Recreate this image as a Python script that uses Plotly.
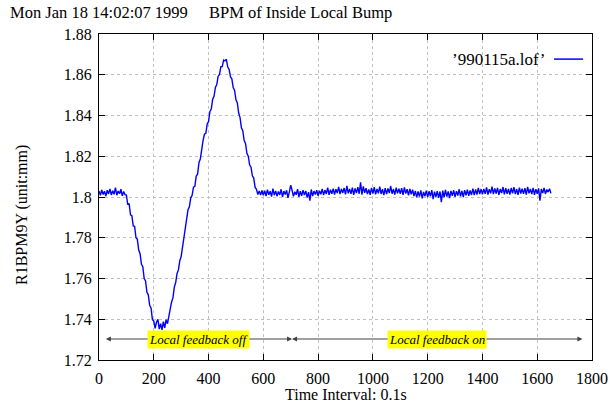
import plotly.graph_objects as go

# sample spacing of the trace (time index, 0.1 s units)
x_start, x_step = 0, 5
bpm_y = [
    1.8030, 1.8008, 1.8035, 1.8012, 1.8028, 1.8004, 1.8033, 1.8015, 1.8040, 1.8010,
    1.8031, 1.8013, 1.8046, 1.8009, 1.8029, 1.8016, 1.8038, 1.8006, 1.8027, 1.8012,
    1.8010, 1.7962, 1.7968, 1.7912, 1.7908, 1.7858, 1.7856, 1.7800, 1.7792, 1.7740,
    1.7722, 1.7670, 1.7658, 1.7600, 1.7588, 1.7532, 1.7520, 1.7468, 1.7455, 1.7398,
    1.7392, 1.7355, 1.7385, 1.7400, 1.7352, 1.7378, 1.7348, 1.7388, 1.7358, 1.7398,
    1.7378, 1.7415, 1.7438, 1.7485, 1.7505, 1.7558, 1.7580, 1.7625, 1.7642, 1.7688,
    1.7708, 1.7755, 1.7792, 1.7850, 1.7876, 1.7938, 1.7952, 1.7996, 1.8008, 1.8048,
    1.8052, 1.8103, 1.8112, 1.8168, 1.8187, 1.8248, 1.8278, 1.8308, 1.8312, 1.8358,
    1.8370, 1.8420, 1.8432, 1.8480, 1.8494, 1.8538, 1.8552, 1.8593, 1.8602, 1.8640,
    1.8640, 1.8672, 1.8668, 1.8676, 1.8638, 1.8627, 1.8590, 1.8580, 1.8537, 1.8523,
    1.8477, 1.8463, 1.8412, 1.8390, 1.8340, 1.8326, 1.8277, 1.8263, 1.8214, 1.8200,
    1.8157, 1.8146, 1.8104, 1.8093, 1.8047, 1.8038, 1.8012, 1.8030, 1.8010, 1.8032,
    1.8008, 1.8031, 1.8005, 1.8036, 1.8011, 1.8028, 1.8002, 1.8041, 1.8009, 1.8030,
    1.8004, 1.8027, 1.8010, 1.8038, 1.8000, 1.8029, 1.8012, 1.8033, 1.7996, 1.8025,
    1.8058, 1.8032, 1.8003, 1.8026, 1.8011, 1.8039, 1.8001, 1.8028, 1.8006, 1.8034,
    1.8010, 1.8030, 1.7997, 1.8024, 1.7982, 1.8037, 1.8004, 1.8029, 1.8012, 1.8033,
    1.8006, 1.8031, 1.8013, 1.8040, 1.8009, 1.8034, 1.8015, 1.8046, 1.8011, 1.8036,
    1.8016, 1.8041, 1.8012, 1.8038, 1.8019, 1.8050, 1.8014, 1.8039, 1.8020, 1.8044,
    1.8013, 1.8055, 1.8018, 1.8040, 1.8015, 1.8046, 1.8010, 1.8042, 1.8019, 1.8048,
    1.8016, 1.8072, 1.8012, 1.8052, 1.8020, 1.8043, 1.8014, 1.8037, 1.8011, 1.8045,
    1.8017, 1.8049, 1.8013, 1.8040, 1.8018, 1.8051, 1.8015, 1.8038, 1.8009, 1.8044,
    1.8014, 1.8042, 1.8019, 1.8054, 1.8016, 1.8039, 1.8012, 1.8046, 1.8018, 1.8041,
    1.8015, 1.8043, 1.8010, 1.8047, 1.8017, 1.8038, 1.8008, 1.8040, 1.8013, 1.8036,
    1.8005, 1.8030, 1.7998, 1.8027, 1.8002, 1.8033, 1.7993, 1.8025, 1.8004, 1.8031,
    1.7999, 1.8028, 1.8003, 1.8034, 1.7990, 1.8026, 1.8001, 1.8029, 1.7996, 1.8027,
    1.7975, 1.8031, 1.7998, 1.8035, 1.8002, 1.8027, 1.7995, 1.8030, 1.8006, 1.8033,
    1.8001, 1.8029, 1.8007, 1.8038, 1.8003, 1.8030, 1.8000, 1.8034, 1.8008, 1.8036,
    1.8006, 1.8032, 1.8010, 1.8041, 1.8009, 1.8037, 1.8012, 1.8045, 1.8014, 1.8039,
    1.8013, 1.8040, 1.8016, 1.8047, 1.8012, 1.8038, 1.8018, 1.8051, 1.8014, 1.8042,
    1.8017, 1.8045, 1.8011, 1.8039, 1.8019, 1.8049, 1.8013, 1.8043, 1.8016, 1.8040,
    1.8012, 1.8044, 1.8018, 1.8048, 1.8014, 1.8039, 1.8010, 1.8046, 1.8017, 1.8041,
    1.8015, 1.8043, 1.8012, 1.8050, 1.8018, 1.8040, 1.8014, 1.8045, 1.8011, 1.8038,
    1.8016, 1.8042, 1.7982, 1.8039, 1.8019, 1.8044, 1.8015, 1.8037, 1.8024, 1.8041,
    1.8018,
]
bpm_x = [x_start + i * x_step for i in range(len(bpm_y))]

x_ticks = [0, 200, 400, 600, 800, 1000, 1200, 1400, 1600, 1800]
y_ticks = [1.72, 1.74, 1.76, 1.78, 1.80, 1.82, 1.84, 1.86, 1.88]
y_tick_labels = ["1.72", "1.74", "1.76", "1.78", "1.8", "1.82", "1.84", "1.86", "1.88"]

# feedback periods: (start, end, label)
periods = [(25, 705, "Local feedback off"), (705, 1765, "Local feedback on")]
arrow_level = 1.7303

series_name = "\u2019990115a.lof\u2019"
title_left = "Mon Jan 18 14:02:07 1999"
title_right = "BPM of Inside Local Bump"

FONT = "Liberation Serif, Times New Roman, serif"

fig = go.Figure()
fig.add_trace(go.Scatter(x=bpm_x, y=bpm_y, mode="lines",
                         line=dict(color="#0000ff", width=1.4),
                         name=series_name, showlegend=False))

axis_common = dict(showline=True, linecolor="black", linewidth=1, mirror="allticks",
                   ticks="inside", ticklen=6, tickcolor="black", automargin=False,
                   showgrid=True, gridcolor="#c0c0c0", griddash="dot", gridwidth=1,
                   zeroline=False, tickfont=dict(family=FONT, size=16, color="black"))

fig.update_xaxes(range=[0, 1800], tickvals=x_ticks, ticklabelstandoff=4, **axis_common)
fig.update_yaxes(range=[1.72, 1.88], tickvals=y_ticks, ticktext=y_tick_labels,
                 ticklabelstandoff=3, **axis_common)

annotations = []
for (a, b, label) in periods:
    mid = (a + b) / 2
    for end in (a, b):
        annotations.append(dict(x=end, y=arrow_level, ax=mid, ay=arrow_level, xref="x", yref="y",
                                axref="x", ayref="y", text="", showarrow=True,
                                arrowhead=2, arrowsize=1, arrowwidth=1, arrowcolor="#404040",
                                font=dict(size=1), borderpad=0))
    annotations.append(dict(x=mid, y=arrow_level, xref="x", yref="y",
                            text="<i>" + label + "</i>", showarrow=False,
                            bgcolor="#ffff00", borderpad=1,
                            font=dict(family=FONT, size=13, color="black")))

annotations += [
    dict(x=-0.1846, y=1.067, xref="paper", yref="paper", xanchor="left", yanchor="middle",
         text=title_left, showarrow=False, font=dict(family=FONT, size=16.5, color="black")),
    dict(x=0.219, y=1.067, xref="paper", yref="paper", xanchor="left", yanchor="middle",
         text=title_right, showarrow=False, font=dict(family=FONT, size=16.5, color="black")),
    dict(x=0.5, y=-0.106, xref="paper", yref="paper", xanchor="center", yanchor="middle",
         text="Time Interval: 0.1s", showarrow=False, font=dict(family=FONT, size=16, color="black")),
    dict(x=-0.156, y=0.445, xref="paper", yref="paper", xanchor="center", yanchor="middle",
         text="R1BPM9Y (unit:mm)", textangle=-90, showarrow=False,
         font=dict(family=FONT, size=16, color="black")),
    dict(x=0.909, y=0.923, xref="paper", yref="paper", xanchor="right", yanchor="middle",
         text=series_name, showarrow=False, font=dict(family=FONT, size=17, color="black")),
]

fig.add_shape(type="line", xref="paper", yref="paper", x0=0.923, x1=0.982, y0=0.923, y1=0.923,
              line=dict(color="#0000ff", width=1.5))

fig.update_layout(width=615, height=416, margin=dict(l=99, r=23, t=34, b=56),
                  paper_bgcolor="white", plot_bgcolor="white",
                  annotations=annotations, showlegend=False,
                  font=dict(family=FONT, size=16, color="black"))

fig.write_html("out.html")
